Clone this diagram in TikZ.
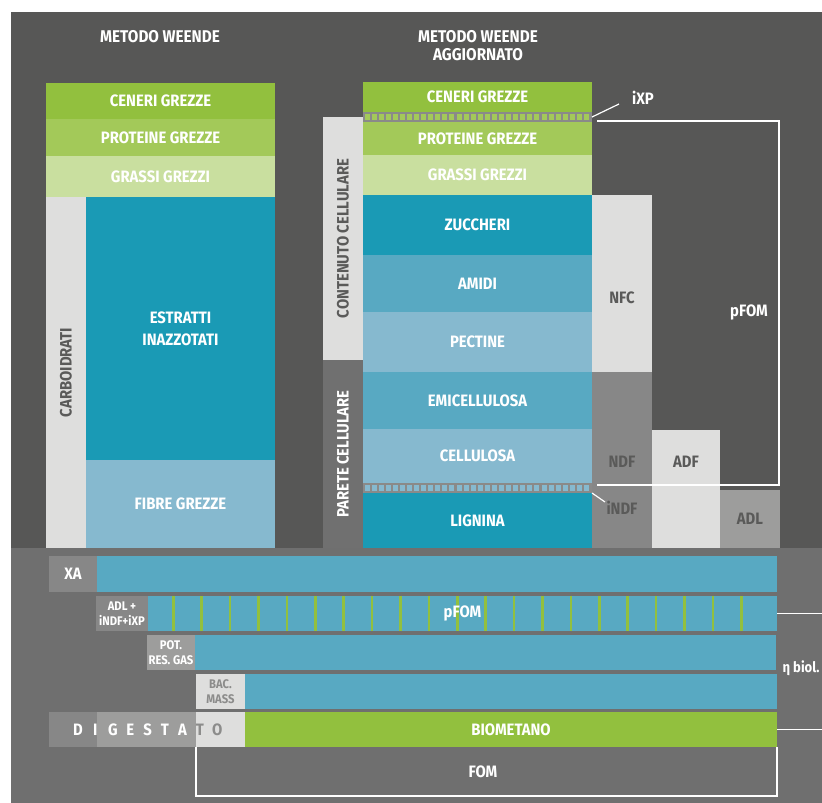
\documentclass[tikz,border=0pt]{standalone}
\usepackage{fontspec}
\setmainfont{Fira Sans}[FakeStretch=0.9]
\usetikzlibrary{positioning}
\definecolor{bgtop}{HTML}{575756}
\definecolor{bglow}{HTML}{6F6F6F}
\definecolor{green1}{HTML}{92C03E}
\definecolor{green2}{HTML}{A3C959}
\definecolor{green3}{HTML}{C9DF9F}
\definecolor{teal}{HTML}{1A9AB5}
\definecolor{blue1}{HTML}{58A9C2}
\definecolor{blue2}{HTML}{86B9CF}
\definecolor{lgrey}{HTML}{DEDEDD}
\definecolor{grey1}{HTML}{707070}
\definecolor{grey2}{HTML}{878787}
\definecolor{grey3}{HTML}{9D9D9C}
\definecolor{hatchgrey}{HTML}{8A8A89}
\definecolor{txtgrey}{HTML}{5A5A59}
\definecolor{txtgrey2}{HTML}{8C8C8B}
\newcommand{\lbl}{\fontsize{16.5}{18}\selectfont\bfseries}
\newcommand{\ttl}{\fontsize{17}{18.5}\selectfont\bfseries}
\newcommand{\sml}{\fontsize{12.5}{14.5}\selectfont\bfseries}

\begin{document}
\begin{tikzpicture}[x=1pt,y=-1pt,
blk/.style={rectangle,inner sep=0pt,outer sep=0pt,text=white,font=\lbl,align=center},
wide/.style={blk,minimum width=229},
hatch/.style={blk,fill=hatchgrey,minimum width=229,minimum height=10},
bar/.style={blk,fill=blue1,minimum height=35,anchor=north west},
tag/.style={blk,font=\sml,minimum width=48,minimum height=35,anchor=north west},
lead/.style={white,line width=1.5pt},
txt/.style={font=\lbl,text=white,inner sep=0pt}
]
% background
\useasboundingbox (0,0) rectangle (822,803);
\fill[white] (0,0) rectangle (822,803);
\fill[bgtop] (11,12) rectangle (822,548);
\fill[bglow] (11,548) rectangle (822,803);

% titles
\node[txt,font=\ttl] (t1) at (160,37) {METODO WEENDE};
\node[txt,font=\ttl,align=center,anchor=north] (t2) at (478,30) {METODO WEENDE\\AGGIORNATO};

% metodo weende
\node[wide,fill=green1,minimum height=36,anchor=north west] (lcen) at (46,83) {CENERI GREZZE};
\node[wide,fill=green2,minimum height=37,below=0pt of lcen] (lpro) {PROTEINE GREZZE};
\node[wide,fill=green3,minimum height=41,below=0pt of lpro] (lgra) {GRASSI GREZZI};
\node[blk,fill=lgrey,minimum width=40,minimum height=351,anchor=north west,
  label={[rotate=90,font=\lbl,text=txtgrey]center:CARBOIDRATI}] (lcarb) at (lgra.south west) {};
\node[blk,fill=teal,minimum width=189,minimum height=263,anchor=north west] (lestr) at (lcarb.north east) {ESTRATTI\\[4pt]INAZZOTATI};
\node[blk,fill=blue2,minimum width=189,minimum height=88,below=0pt of lestr] (lfib) {FIBRE GREZZE};

% metodo weende aggiornato
\node[wide,fill=green1,minimum height=30,anchor=north west] (mcen) at (363,82) {CENERI GREZZE};
\node[hatch,below=0pt of mcen] (mixp) {};
\node[wide,fill=green2,minimum height=33,below=0pt of mixp] (mpro) {PROTEINE GREZZE};
\node[wide,fill=green3,minimum height=40,below=0pt of mpro] (mgra) {GRASSI GREZZI};
\node[wide,fill=teal,minimum height=60,below=0pt of mgra] (mzuc) {ZUCCHERI};
\node[wide,fill=blue1,minimum height=57,below=0pt of mzuc] (mami) {AMIDI};
\node[wide,fill=blue2,minimum height=60,below=0pt of mami] (mpec) {PECTINE};
\node[wide,fill=blue1,minimum height=57,below=0pt of mpec] (memi) {EMICELLULOSA};
\node[wide,fill=blue2,minimum height=54,below=0pt of memi] (mcel) {CELLULOSA};
\node[hatch,below=0pt of mcel] (mindf) {};
\node[wide,fill=teal,minimum height=55,below=0pt of mindf] (mlig) {LIGNINA};
\foreach \k in {0,...,31} {
  \fill[green2] ({364.5+7.08*\k},113.5) rectangle +(5,6);
  \fill[blue2] ({364.5+7.08*\k},485) rectangle +(5,6);
}
\node[blk,fill=lgrey,minimum width=40,minimum height=243,anchor=north west,
  label={[rotate=90,font=\lbl,text=txtgrey]center:CONTENUTO CELLULARE}] (mcont) at (323,117) {};
\node[blk,fill=grey1,minimum width=40,minimum height=188,below=0pt of mcont,
  label={[rotate=90,font=\lbl,text=white]center:PARETE CELLULARE}] (mpar) {};

% frazioni
\node[blk,fill=lgrey,minimum width=60,minimum height=177,anchor=north west] (nfc) at (mzuc.north east) {};
\node[blk,fill=grey2,minimum width=60,minimum height=176,below=0pt of nfc] (ndf) {};
\node[blk,fill=lgrey,minimum width=68,minimum height=118,anchor=south west] (adf) at (ndf.south east) {};
\node[blk,fill=grey3,text=txtgrey,minimum width=60,minimum height=58,anchor=south west] (adl) at (adf.south east) {ADL};
\node[txt,text=txtgrey] (nfclbl) at (622,298) {NFC};
\node[txt,text=txtgrey] (ndflbl) at (622,462) {NDF};
\node[txt,text=txtgrey] (adflbl) at (686,462) {ADF};
\node[txt,text=txtgrey] (indf) at (622,508) {iNDF};
\node[txt] (ixp) at (643,98) {iXP};
\node[txt] (pfom) at (749,312) {pFOM};
\coordinate (ixpend) at (619,104);
\coordinate (indfend) at (605,502);
\coordinate (ptl) at (597,121);
\coordinate (ptr) at (779,121);
\coordinate (pbr) at (779,485);
\coordinate (pbl) at (597,485);
\draw[lead,line width=1.2pt] (mixp.east) -- (ixpend);
\draw[lead,line width=1.2pt] (mindf.south east) -- (indfend);
\draw[lead] (ptl) -- (ptr) -- (pbr) -- (pbl);

% digestione
\node[tag,fill=grey2,font=\lbl,minimum height=36] (xa) at (49,556) {XA};
\node[bar,minimum width=680,minimum height=36] (xabar) at (xa.north east) {};
\node[tag,fill=grey2,minimum width=52] (res) at (96,596) {ADL +\\iNDF+iXP};
\node[bar,minimum width=629] (resbar) at (res.north east) {};
\foreach \k in {0,...,20}
  \fill[green1] ({172+28.4*\k},596) rectangle +(2.6,35);
\node[txt] (pfom2) at (resbar.center) {pFOM};
\node[tag,fill=grey3] (gas) at (147,635) {POT.\\RES. GAS};
\node[bar,minimum width=581] (gasbar) at (gas.north east) {};
\node[tag,fill=lgrey,text=txtgrey2,minimum width=49] (bac) at (196,674) {BAC.\\MASS};
\node[bar,minimum width=532] (bacbar) at (bac.north east) {};
\node[tag,fill=grey2] (dig1) at (49,712) {};
\node[tag,fill=grey3,minimum width=99] (dig2) at (dig1.north east) {};
\node[tag,fill=lgrey,minimum width=49] (dig3) at (dig2.north east) {};
\node[bar,fill=green1,minimum width=532] (bio) at (dig3.north east) {BIOMETANO};
\foreach \c [count=\i from 0] in {D,I,G,E,S,T,A}
  \node[txt] (dl\i) at ({78+17.4*\i},729.5) {\c};
\node[txt,text=txtgrey2] (dl7) at (199.8,729.5) {T};
\node[txt,text=txtgrey2] (dl8) at (217.2,729.5) {O};
\coordinate (fbl) at (196,796);
\coordinate (fbr) at (777,796);
\draw[lead] (dig3.south west) -- (fbl) -- (fbr) -- (bio.south east);
\node[txt] (fom) at (483,772) {FOM};
\coordinate (eta1) at (822,613.5);
\coordinate (eta2) at (822,729.5);
\draw[lead] (resbar.east) -- (eta1);
\draw[lead] (bio.east) -- (eta2);
\node[txt,font=\fontsize{14.5}{16}\selectfont\bfseries] (eta) at (801,668) {η biol.};
\end{tikzpicture}
\end{document}
